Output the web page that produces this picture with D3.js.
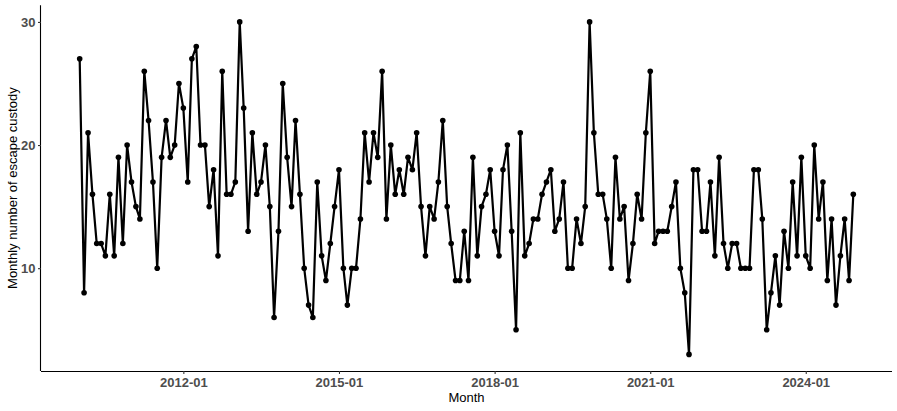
<!DOCTYPE html>
<html>
<head>
<meta charset="utf-8">
<script src="https://cdn.jsdelivr.net/npm/d3@7/dist/d3.min.js"></script>
<style>
  html, body { margin: 0; padding: 0; background: #fff; }
  svg { display: block; font-family: "Liberation Sans", Arial, Helvetica, sans-serif; }
</style>
</head>
<body>
<svg id="chart" width="897" height="411"></svg>
<script>
// Monthly counts, Jan 2010 .. Dec 2024
const startMonth = "2010-01";
const values = [
  27, 8, 21, 16, 12, 12, 11, 16, 11, 19, 12, 20, 17, 15, 14, 26, 22, 17, 10, 19, 22, 19,
  20, 25, 23, 17, 27, 28, 20, 20, 15, 18, 11, 26, 16, 16, 17, 30, 23, 13, 21, 16, 17, 20, 15,
  6, 13, 25, 19, 15, 22, 16, 10, 7, 6, 17, 11, 9, 12, 15, 18, 10, 7, 10, 10, 14, 21, 17,
  21, 19, 26, 14, 20, 16, 18, 16, 19, 18, 21, 15, 11, 15, 14, 17, 22, 15, 12, 9, 9, 13, 9,
  19, 11, 15, 16, 18, 13, 11, 18, 20, 13, 5, 21, 11, 12, 14, 14, 16, 17, 18, 13, 14, 17, 10,
  10, 14, 12, 15, 30, 21, 16, 16, 14, 10, 19, 14, 15, 9, 12, 16, 14, 21, 26, 12, 13, 13, 13,
  15, 17, 10, 8, 3, 18, 18, 13, 13, 17, 11, 19, 12, 10, 12, 12, 10, 10, 10, 18, 18, 14, 5, 8,
  11, 7, 13, 10, 17, 11, 19, 11, 10, 20, 14, 17, 9, 14, 7, 11, 14, 9, 16
];
const xTickLabels = ["2012-01", "2015-01", "2018-01", "2021-01", "2024-01"];
const yTicks = [10, 20, 30];
const xTitle = "Month";
const yTitle = "Monthly number of escape custody";

const parseMonth = d3.utcParse("%Y-%m");
const start = parseMonth(startMonth);
const data = values.map((v, i) => ({ date: d3.utcMonth.offset(start, i), value: v }));

const svg = d3.select("#chart");
const pLeft = 41, pRight = 892, pTop = 5.3, pBottom = 371;

// ggplot-style 5% expansion
const dExt = d3.extent(data, d => d.date);
const span = dExt[1] - dExt[0];
const x = d3.scaleUtc()
  .domain([new Date(+dExt[0] - span * 0.05), new Date(+dExt[1] + span * 0.05)])
  .range([pLeft, pRight]);
const vExt = d3.extent(values);
const vSpan = vExt[1] - vExt[0];
const y = d3.scaleLinear()
  .domain([vExt[0] - vSpan * 0.05, vExt[1] + vSpan * 0.05])
  .range([pBottom, pTop]);

const tickFont = "13px";

// X axis
const xAxis = d3.axisBottom(x)
  .tickValues(xTickLabels.map(parseMonth))
  .tickFormat(d3.utcFormat("%Y-%m"))
  .tickSize(3)
  .tickPadding(3.5);
const gx = svg.append("g").attr("transform", `translate(0,${pBottom})`).call(xAxis);
gx.select(".domain").attr("stroke", "#000").attr("stroke-width", 1.1);
gx.selectAll(".tick line").attr("stroke", "#333").attr("stroke-width", 1.1);
gx.selectAll(".tick text").attr("fill", "#4d4d4d").style("font-size", tickFont)
  .style("font-weight", "bold").style("font-family", "Liberation Sans, Arial, sans-serif");

// Y axis
const yAxis = d3.axisLeft(y).tickValues(yTicks).tickSize(3).tickPadding(2.5);
const gy = svg.append("g").attr("transform", `translate(${pLeft},0)`).call(yAxis);
gy.select(".domain").attr("stroke", "#000").attr("stroke-width", 1.1);
gy.selectAll(".tick line").attr("stroke", "#333").attr("stroke-width", 1.1);
gy.selectAll(".tick text").attr("fill", "#4d4d4d").style("font-size", tickFont)
  .style("font-weight", "bold").style("font-family", "Liberation Sans, Arial, sans-serif");

// plain axis lines (no end stubs)
gx.select(".domain").attr("d", `M${pLeft},0.5H${pRight}`);
gy.select(".domain").attr("d", `M-0.5,${pBottom}V${pTop}`);

// Line
const line = d3.line().x(d => x(d.date)).y(d => y(d.value));
svg.append("path").datum(data)
  .attr("fill", "none").attr("stroke", "#000").attr("stroke-width", 2.2)
  .attr("stroke-linejoin", "round")
  .attr("d", line);

// Points
svg.append("g").selectAll("circle").data(data).join("circle")
  .attr("cx", d => x(d.date)).attr("cy", d => y(d.value))
  .attr("r", 2.8).attr("fill", "#000");

// Titles
svg.append("text")
  .attr("x", (pLeft + pRight) / 2).attr("y", 402)
  .attr("text-anchor", "middle").attr("fill", "#000")
  .style("font-size", "13px").text(xTitle);
svg.append("text")
  .attr("transform", `translate(16.5,${(pTop + pBottom) / 2}) rotate(-90)`)
  .attr("text-anchor", "middle").attr("fill", "#000")
  .style("font-size", "13px").text(yTitle);
</script>
</body>
</html>
